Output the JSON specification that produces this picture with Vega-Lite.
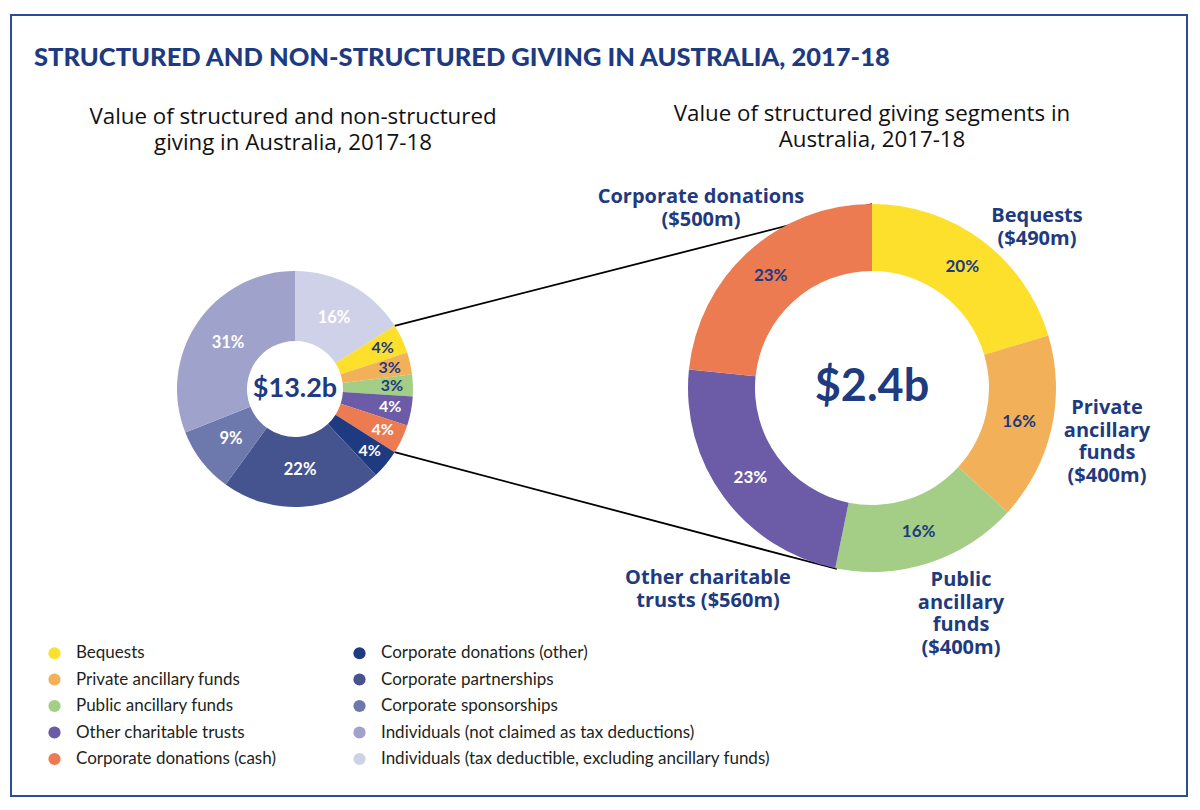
{
  "$schema": "https://vega.github.io/schema/vega-lite/v6.json",
  "width": 1200,
  "height": 810,
  "autosize": {"type": "fit", "contains": "padding"},
  "padding": {"left": 11, "top": 15, "right": 13, "bottom": 14},
  "background": "white",
  "config": {
    "view": {"stroke": "#2E4C96", "strokeWidth": 2},
    "font": "Lato",
    "text": {"font": "Lato"}
  },
  "datasets": {
    "total": [
      {"category": "Individuals (tax deductible, excluding ancillary funds)", "share": 0.16, "n": 1},
      {"category": "Bequests", "share": 0.04, "n": 2},
      {"category": "Private ancillary funds", "share": 0.03, "n": 3},
      {"category": "Public ancillary funds", "share": 0.03, "n": 4},
      {"category": "Other charitable trusts", "share": 0.04, "n": 5},
      {"category": "Corporate donations (cash)", "share": 0.04, "n": 6},
      {"category": "Corporate donations (other)", "share": 0.04, "n": 7},
      {"category": "Corporate partnerships", "share": 0.22, "n": 8},
      {"category": "Corporate sponsorships", "share": 0.09, "n": 9},
      {"category": "Individuals (not claimed as tax deductions)", "share": 0.31, "n": 10}
    ],
    "structured": [
      {"category": "Bequests", "share": 0.204, "n": 1},
      {"category": "Private ancillary funds", "share": 0.164, "n": 2},
      {"category": "Public ancillary funds", "share": 0.164, "n": 3},
      {"category": "Other charitable trusts", "share": 0.234, "n": 4},
      {"category": "Corporate donations (cash)", "share": 0.234, "n": 5}
    ]
  },
  "layer": [
    {
      "data": {"values": [{}]},
      "mark": {"type": "rule", "stroke": "#000000", "strokeWidth": 1.8},
      "encoding": {"x": {"value": 383.6}, "y": {"value": 310.8}, "x2": {"value": 861}, "y2": {"value": 189}}
    },
    {
      "data": {"values": [{}]},
      "mark": {"type": "rule", "stroke": "#000000", "strokeWidth": 1.8},
      "encoding": {"x": {"value": 383.6}, "y": {"value": 437.2}, "x2": {"value": 826}, "y2": {"value": 554}}
    },
    {
      "data": {"name": "total"},
      "mark": {"type": "arc", "outerRadius": 118, "innerRadius": 48, "x": 284, "y": 374},
      "encoding": {
        "theta": {"field": "share", "type": "quantitative", "stack": true},
        "order": {"field": "n", "type": "quantitative"},
        "color": {
          "field": "category",
          "type": "nominal",
          "scale": {
            "domain": ["Bequests", "Private ancillary funds", "Public ancillary funds", "Other charitable trusts", "Corporate donations (cash)", "Corporate donations (other)", "Corporate partnerships", "Corporate sponsorships", "Individuals (not claimed as tax deductions)", "Individuals (tax deductible, excluding ancillary funds)"],
            "range": ["#FDE02B", "#F2B158", "#A4CD85", "#6C5BA6", "#EC7B51", "#1E3A80", "#45538F", "#6D79AD", "#9FA2CA", "#CED1E7"]
          },
          "legend": {
            "orient": "none",
            "legendX": 35,
            "legendY": 629.5,
            "title": null,
            "columns": 2,
            "columnPadding": 75,
            "rowPadding": 8.5,
            "direction": "vertical",
            "symbolType": "circle",
            "symbolSize": 150,
            "symbolStrokeWidth": 0,
            "labelFont": "Lato",
            "labelFontSize": 17,
            "labelColor": "#231F20",
            "labelOffset": 13,
            "labelLimit": 600
          }
        }
      }
    },
    {
      "data": {"name": "structured"},
      "mark": {"type": "arc", "outerRadius": 184, "innerRadius": 117, "x": 861, "y": 373},
      "encoding": {
        "theta": {"field": "share", "type": "quantitative", "stack": true},
        "order": {"field": "n", "type": "quantitative"},
        "color": {
          "field": "category",
          "type": "nominal",
          "scale": {
            "domain": ["Bequests", "Private ancillary funds", "Public ancillary funds", "Other charitable trusts", "Corporate donations (cash)", "Corporate donations (other)", "Corporate partnerships", "Corporate sponsorships", "Individuals (not claimed as tax deductions)", "Individuals (tax deductible, excluding ancillary funds)"],
            "range": ["#FDE02B", "#F2B158", "#A4CD85", "#6C5BA6", "#EC7B51", "#1E3A80", "#45538F", "#6D79AD", "#9FA2CA", "#CED1E7"]
          }
        }
      }
    },
    {
      "data": {"name": "total"},
      "mark": {"type": "text", "radius": 81, "x": 284, "y": 374, "fontSize": 16.5, "fontWeight": "bold", "align": "center", "baseline": "middle"},
      "encoding": {
        "theta": {"field": "share", "type": "quantitative", "stack": true},
        "order": {"field": "n", "type": "quantitative"},
        "text": {"condition": {"test": "datum.share >= 0.05", "field": "share", "type": "quantitative", "format": ".0%"}, "value": ""},
        "color": {"value": "#FFFFFF"}
      }
    },
    {
      "data": {"name": "total"},
      "mark": {"type": "text", "radius": 97, "x": 284, "y": 374, "fontSize": 16, "fontWeight": "bold", "align": "center", "baseline": "middle"},
      "encoding": {
        "theta": {"field": "share", "type": "quantitative", "stack": true},
        "order": {"field": "n", "type": "quantitative"},
        "text": {"condition": {"test": "datum.share < 0.05", "field": "share", "type": "quantitative", "format": ".0%"}, "value": ""},
        "color": {"condition": {"test": "indexof(['Bequests','Private ancillary funds','Public ancillary funds'], datum.category) >= 0", "value": "#1E3A80"}, "value": "#FFFFFF"}
      }
    },
    {
      "data": {"name": "structured"},
      "mark": {"type": "text", "radius": 151, "x": 861, "y": 373, "fontSize": 17, "fontWeight": "bold", "align": "center", "baseline": "middle"},
      "encoding": {
        "theta": {"field": "share", "type": "quantitative", "stack": true},
        "order": {"field": "n", "type": "quantitative"},
        "text": {"field": "share", "type": "quantitative", "format": ".0%"},
        "color": {"condition": {"test": "datum.category === 'Other charitable trusts'", "value": "#FFFFFF"}, "value": "#1E3A80"}
      }
    },
    {
      "data": {"values": [{}]},
      "mark": {"type": "text", "align": "left", "baseline": "alphabetic", "fontSize": 25.5, "fontWeight": 900, "color": "#1E3A80"},
      "encoding": {"x": {"value": 23}, "y": {"value": 51}, "text": {"value": "STRUCTURED AND NON-STRUCTURED GIVING IN AUSTRALIA, 2017-18"}}
    },
    {
      "data": {"values": [{}]},
      "mark": {"type": "text", "align": "center", "baseline": "alphabetic", "font": "Open Sans", "fontSize": 22.3, "fontWeight": 500, "lineHeight": 26, "color": "#111111"},
      "encoding": {"x": {"value": 282}, "y": {"value": 109}, "text": {"value": ["Value of structured and non-structured", "giving in Australia, 2017-18"]}}
    },
    {
      "data": {"values": [{}]},
      "mark": {"type": "text", "align": "center", "baseline": "alphabetic", "font": "Open Sans", "fontSize": 22.3, "fontWeight": 500, "lineHeight": 26, "color": "#111111"},
      "encoding": {"x": {"value": 861}, "y": {"value": 106}, "text": {"value": ["Value of structured giving segments in", "Australia, 2017-18"]}}
    },
    {
      "data": {"values": [{}]},
      "mark": {"type": "text", "align": "center", "baseline": "middle", "fontSize": 27, "fontWeight": "bold", "color": "#1E3A80"},
      "encoding": {"x": {"value": 284}, "y": {"value": 374}, "text": {"value": "$13.2b"}}
    },
    {
      "data": {"values": [{}]},
      "mark": {"type": "text", "align": "center", "baseline": "middle", "fontSize": 45, "fontWeight": "bold", "color": "#1E3A80"},
      "encoding": {"x": {"value": 861}, "y": {"value": 372}, "text": {"value": "$2.4b"}}
    },
    {
      "data": {"values": [{}]},
      "mark": {"type": "text", "align": "center", "baseline": "alphabetic", "font": "Open Sans", "fontSize": 20, "fontWeight": "bold", "lineHeight": 23, "color": "#1E3A80"},
      "encoding": {"x": {"value": 690}, "y": {"value": 188}, "text": {"value": ["Corporate donations", "($500m)"]}}
    },
    {
      "data": {"values": [{}]},
      "mark": {"type": "text", "align": "center", "baseline": "alphabetic", "font": "Open Sans", "fontSize": 20, "fontWeight": "bold", "lineHeight": 23, "color": "#1E3A80"},
      "encoding": {"x": {"value": 1026}, "y": {"value": 207}, "text": {"value": ["Bequests", "($490m)"]}}
    },
    {
      "data": {"values": [{}]},
      "mark": {"type": "text", "align": "center", "baseline": "alphabetic", "font": "Open Sans", "fontSize": 20, "fontWeight": "bold", "lineHeight": 22.5, "color": "#1E3A80"},
      "encoding": {"x": {"value": 1096}, "y": {"value": 399}, "text": {"value": ["Private", "ancillary", "funds", "($400m)"]}}
    },
    {
      "data": {"values": [{}]},
      "mark": {"type": "text", "align": "center", "baseline": "alphabetic", "font": "Open Sans", "fontSize": 20, "fontWeight": "bold", "lineHeight": 22.5, "color": "#1E3A80"},
      "encoding": {"x": {"value": 950}, "y": {"value": 571}, "text": {"value": ["Public", "ancillary", "funds", "($400m)"]}}
    },
    {
      "data": {"values": [{}]},
      "mark": {"type": "text", "align": "center", "baseline": "alphabetic", "font": "Open Sans", "fontSize": 20, "fontWeight": "bold", "lineHeight": 23, "color": "#1E3A80"},
      "encoding": {"x": {"value": 697}, "y": {"value": 569}, "text": {"value": ["Other charitable", "trusts ($560m)"]}}
    }
  ],
  "resolve": {"scale": {"theta": "independent"}}
}
